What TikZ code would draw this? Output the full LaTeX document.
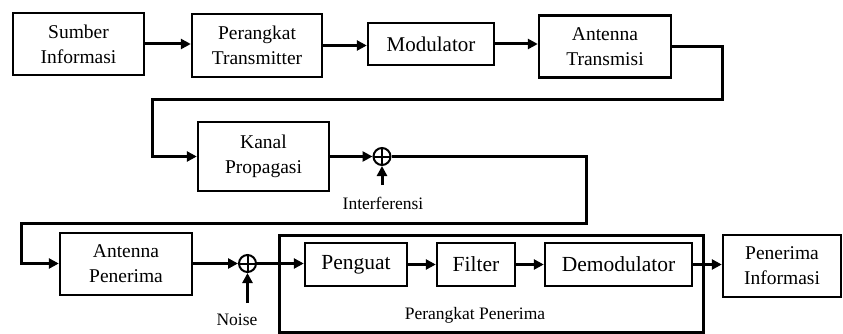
\documentclass[tikz,border=0pt]{standalone}
\usepackage{fontspec}
\setmainfont{Liberation Serif}
\usetikzlibrary{arrows.meta}
\begin{document}
\begin{tikzpicture}[x=1pt,y=-1pt,
  blk/.style={draw,line width=2.4pt,inner sep=0pt,align=center,font=\fontsize{19.5}{25}\selectfont},
  inblk/.style={blk,font=\fontsize{21.5}{25}\selectfont},
  conn/.style={line width=3pt,-{Triangle[length=10pt,width=10pt]}},
  lbl/.style={inner sep=0pt,font=\fontsize{17.5}{20}\selectfont},
  summ/.style={circle,draw,line width=2pt,minimum size=17pt,inner sep=0pt,
    path picture={\draw[line width=2pt] (path picture bounding box.north) -- (path picture bounding box.south)
      (path picture bounding box.west) -- (path picture bounding box.east);}}]
\useasboundingbox (0,0) rectangle (843,334);
% row 1
\node[blk,minimum width=131pt,minimum height=62pt] (sumber) at (78.5,44) {Sumber\\Informasi};
\node[blk,minimum width=130pt,minimum height=63pt] (trans) at (257,45.5) {Perangkat\\Transmitter};
\node[blk,minimum width=126pt,minimum height=42pt,font=\fontsize{21}{25}\selectfont] (mod) at (431,44) {Modulator};
\node[blk,minimum width=132pt,minimum height=62pt] (antT) at (605,46.5) {Antenna\\Transmisi};
% row 2
\node[blk,minimum width=131pt,minimum height=69pt] (kanal) at (263.5,156.5) {Kanal\\Propagasi};
\node[summ] (s1) at (382,156.5) {};
\node[lbl] (interf) at (383,203) {Interferensi};
\coordinate (i0) at (382,185);
% row 3
\node[blk,minimum width=132pt,minimum height=62pt] (antP) at (126,264) {Antenna\\Penerima};
\node[summ] (s2) at (247.5,263.5) {};
\node[lbl] (noise) at (237,320) {Noise};
\coordinate (n0) at (247.5,303);
\draw[line width=3pt] (279,235) rectangle (703,332);
\node[lbl] (pp) at (475,315) {Perangkat Penerima};
\node[inblk,minimum width=102pt,minimum height=43pt] (peng) at (356,264.5) {Penguat};
\node[inblk,minimum width=78pt,minimum height=43pt] (filt) at (476,264.5) {Filter};
\node[inblk,minimum width=147pt,minimum height=43pt] (demod) at (618.5,264.5) {Demodulator};
\node[blk,minimum width=118pt,minimum height=62pt] (penI) at (782,266) {Penerima\\Informasi};
% connectors
\draw[conn] (sumber.east) -- (trans.west |- sumber.east);
\draw[conn] (trans.east) -- (mod.west |- trans.east);
\draw[conn] (mod.east) -- (antT.west |- mod.east);
\draw[conn] (antT.east) -- (722,46.5) -- (722,100) -- (152,100) -- (152,156.5) -- (kanal.west);
\draw[conn] (kanal.east) -- (s1.west);
\draw[conn] (i0) -- (s1.south);
\draw[conn] (s1.east) -- (586,156.5) -- (586,223) -- (21,223) -- (21,263.5) -- (antP.west |- s2);
\draw[conn] (antP.east |- s2) -- (s2.west);
\draw[conn] (n0) -- (s2.south);
\draw[conn] (s2.east) -- (peng.west |- s2);
\draw[conn] (peng.east) -- (filt.west);
\draw[conn] (filt.east) -- (demod.west);
\draw[conn] (demod.east) -- (penI.west |- demod.east);
\end{tikzpicture}
\end{document}
